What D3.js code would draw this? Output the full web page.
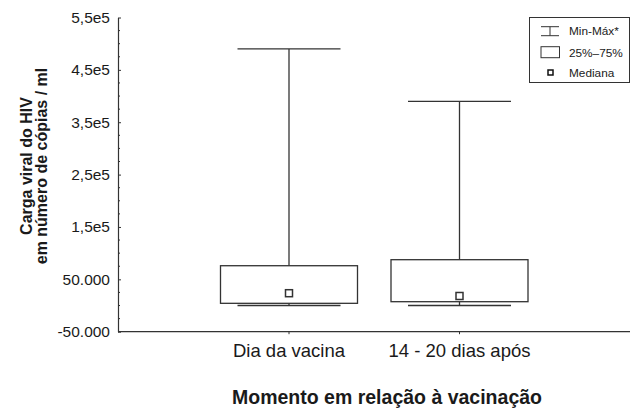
<!DOCTYPE html>
<html><head><meta charset="utf-8">
<script src="https://cdn.jsdelivr.net/npm/d3@7"></script>
<style>
body{margin:0;background:#fff;}
text{font-family:"Liberation Sans",Arial,Helvetica,sans-serif;fill:#1a1a1a;}
</style></head>
<body><svg id="chart" width="631" height="410"></svg>
<script>
// ---- data ----
const categories = ["Dia da vacina", "14 - 20 dias após"];
const minValues    = [0, 0];
const q1Values     = [4200, 7300];
const medianValues = [23500, 18200];
const q3Values     = [76000, 87500];
const maxValues    = [490000, 390000];
const yTickValues  = [-50000, 50000, 150000, 250000, 350000, 450000, 550000];
const yTickLabels  = ["-50.000", "50.000", "1,5e5", "2,5e5", "3,5e5", "4,5e5", "5,5e5"];
const legendLabels = ["Min-Máx*", "25%–75%", "Mediana"];
const yTitleLines  = ["Carga viral do HIV", "em número de cópias / ml"];
const xTitle = "Momento em relação à vacinação";

const svg = d3.select("#chart");
const ink = "#333";
const x0 = 118, x1 = 630, yTop = 17.5, yBot = 331.7;

const y = d3.scaleLinear().domain([-50000, 550000]).range([yBot, yTop]);
const x = d3.scalePoint().domain(categories).range([289, 459.5]);
const boxW = 137, capW = 103;

// minor ticks
const minor = d3.range(-50000, 550001, 25000).filter(v => !yTickValues.includes(v));
svg.append("g").selectAll("line").data(minor).join("line")
  .attr("x1", x0).attr("x2", x0 + 2)
  .attr("y1", d => y(d)).attr("y2", d => y(d))
  .attr("stroke", ink).attr("stroke-width", 1);

// y axis
const yAxis = d3.axisLeft(y).tickValues(yTickValues)
  .tickFormat((d, i) => yTickLabels[i])
  .tickSizeInner(-3).tickSizeOuter(0).tickPadding(8);
const gy = svg.append("g").attr("transform", `translate(${x0},0)`).call(yAxis);
gy.select(".domain").attr("stroke", ink).attr("stroke-width", 1.2);
gy.selectAll(".tick line").attr("stroke", ink);
gy.selectAll(".tick text").attr("font-size", 15.5).attr("fill", "#1a1a1a")
  .attr("font-family", '"Liberation Sans", Arial, sans-serif');

// x axis line
svg.append("line").attr("x1", x0).attr("x2", x1).attr("y1", yBot).attr("y2", yBot)
  .attr("stroke", ink).attr("stroke-width", 1.2);
svg.append("g").selectAll("line").data(categories).join("line")
  .attr("x1", d => x(d)).attr("x2", d => x(d))
  .attr("y1", yBot).attr("y2", yBot + 2.5).attr("stroke", ink);
svg.append("g").selectAll("text").data(categories).join("text")
  .attr("x", d => x(d)).attr("y", 357).attr("text-anchor", "middle")
  .attr("font-size", 18.5).text(d => d);

// boxes
const g = svg.append("g");
categories.forEach((c, i) => {
  const cx = x(c);
  g.append("line").attr("x1", cx).attr("x2", cx).attr("y1", y(maxValues[i])).attr("y2", y(q3Values[i]))
    .attr("stroke", ink).attr("stroke-width", 1.3);
  g.append("line").attr("x1", cx).attr("x2", cx).attr("y1", y(q1Values[i])).attr("y2", y(minValues[i]))
    .attr("stroke", ink).attr("stroke-width", 1.3);
  [maxValues[i], minValues[i]].forEach(v => {
    g.append("line").attr("x1", cx - capW / 2).attr("x2", cx + capW / 2).attr("y1", y(v)).attr("y2", y(v))
      .attr("stroke", ink).attr("stroke-width", 1.3);
  });
  g.append("rect").attr("x", cx - boxW / 2).attr("width", boxW)
    .attr("y", y(q3Values[i])).attr("height", y(q1Values[i]) - y(q3Values[i]))
    .attr("fill", "#fff").attr("stroke", ink).attr("stroke-width", 1.3);
  g.append("rect").attr("x", cx - 3.5).attr("y", y(medianValues[i]) - 3.5).attr("width", 7).attr("height", 7)
    .attr("fill", "#fff").attr("stroke", ink).attr("stroke-width", 1.5);
});

// legend
const lg = svg.append("g");
lg.append("rect").attr("x", 529.5).attr("y", 17.5).attr("width", 100).attr("height", 65)
  .attr("fill", "#fff").attr("stroke", ink).attr("stroke-width", 1);
const iconCx = 550;
// whisker icon
lg.append("line").attr("x1", 541).attr("x2", 559).attr("y1", 26.7).attr("y2", 26.7).attr("stroke", ink);
lg.append("line").attr("x1", 541).attr("x2", 559).attr("y1", 35.7).attr("y2", 35.7).attr("stroke", ink);
lg.append("line").attr("x1", iconCx).attr("x2", iconCx).attr("y1", 26.7).attr("y2", 35.7).attr("stroke", ink);
// box icon
lg.append("rect").attr("x", 541).attr("y", 46.7).attr("width", 18.5).attr("height", 11)
  .attr("fill", "#fff").attr("stroke", ink);
// median icon
lg.append("rect").attr("x", 548).attr("y", 70).attr("width", 5).attr("height", 5)
  .attr("fill", "#fff").attr("stroke", "#111").attr("stroke-width", 1.5);
lg.selectAll("text").data(legendLabels).join("text")
  .attr("x", 569).attr("y", (d, i) => [34.5, 57, 77][i])
  .attr("font-size", 11.8).text(d => d);

// titles
const yt = svg.append("text").attr("transform", "translate(0,166) rotate(-90)")
  .attr("text-anchor", "middle").attr("font-weight", "bold").attr("font-size", 16);
yt.selectAll("tspan").data(yTitleLines).join("tspan")
  .attr("x", 0).attr("y", (d, i) => [32, 47][i]).text(d => d);
svg.append("text").attr("x", 387).attr("y", 404).attr("text-anchor", "middle")
  .attr("font-weight", "bold").attr("font-size", 19.5).text(xTitle);
</script></body></html>
